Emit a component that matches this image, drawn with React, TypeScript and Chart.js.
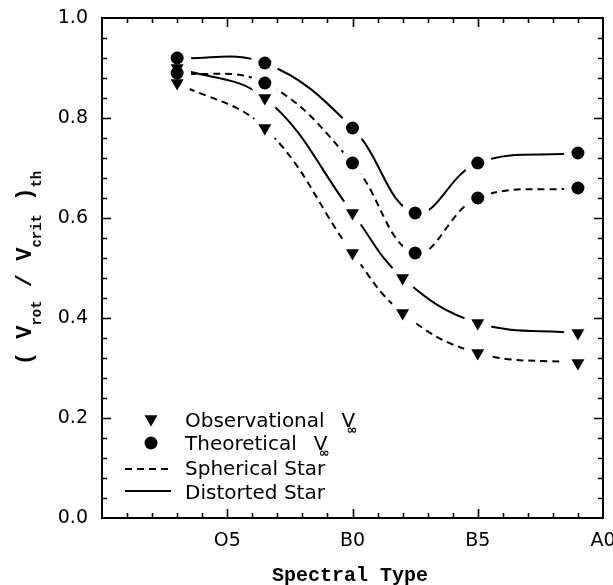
import React, { useEffect, useRef } from "react";
import { Chart, registerables } from "chart.js";

Chart.register(...registerables);

// ---- data (spectral subtype: O0 = 0, O5 = 5, B0 = 10, B5 = 15, A0 = 20) ----
const xTheoretical = [3, 6.5, 10, 12.5, 15, 19];
const xObservational = [3, 6.5, 10, 12, 15, 19];
const theoDistorted = [0.92, 0.91, 0.78, 0.61, 0.71, 0.73];
const theoSpherical = [0.89, 0.87, 0.71, 0.53, 0.64, 0.66];
const obsDistorted = [0.9, 0.84, 0.61, 0.48, 0.39, 0.37];
const obsSpherical = [0.87, 0.78, 0.53, 0.41, 0.33, 0.31];
const xTickValues = [5, 10, 15, 20];
const xTickLabels = ["O5", "B0", "B5", "A0"];
const legendLabels = ["Observational", "Theoretical", "Spherical Star", "Distorted Star"];

const pts = (xs: number[], ys: number[]) => xs.map((x, i) => ({ x, y: ys[i] }));

const HALO = 14;

const framePlugin = {
  id: "framePlugin",
  afterDatasetsDraw(chart: any) {
    // white gap around every marker, then the markers again, at the library's own point positions
    const ctx = chart.ctx as CanvasRenderingContext2D;
    const { left, right, top, bottom } = chart.chartArea;
    ctx.save();
    ctx.beginPath();
    ctx.rect(left, top, right - left, bottom - top);
    ctx.clip();
    const markerMetas = [chart.getDatasetMeta(0), chart.getDatasetMeta(1)];
    ctx.fillStyle = "#ffffff";
    markerMetas.forEach((meta: any) => {
      meta.data.forEach((el: any) => {
        ctx.beginPath();
        ctx.arc(el.x, el.y, HALO, 0, Math.PI * 2);
        ctx.fill();
      });
    });
    markerMetas.forEach((meta: any) => {
      meta.data.forEach((el: any) => el.draw(ctx, chart.chartArea));
    });
    ctx.restore();
  },
  afterDraw(chart: any) {
    const ctx = chart.ctx as CanvasRenderingContext2D;
    const { left, right, top, bottom } = chart.chartArea;
    const xs = chart.scales.x;
    const ys = chart.scales.y;
    ctx.save();
    ctx.strokeStyle = "#000";
    ctx.fillStyle = "#000";
    ctx.lineWidth = 2;
    ctx.strokeRect(left, top, right - left, bottom - top);
    ctx.lineWidth = 1.6;
    for (let v = 1; v < 20; v++) {
      const px = Math.round(xs.getPixelForValue(v)) + 0.5;
      const len = v % 5 === 0 ? 9 : 5;
      ctx.beginPath();
      ctx.moveTo(px, bottom);
      ctx.lineTo(px, bottom - len);
      ctx.moveTo(px, top);
      ctx.lineTo(px, top + len);
      ctx.stroke();
    }
    for (let i = 1; i < 25; i++) {
      const py = Math.round(ys.getPixelForValue(i * 0.04)) + 0.5;
      const len = i % 5 === 0 ? 9 : 5;
      ctx.beginPath();
      ctx.moveTo(left, py);
      ctx.lineTo(left + len, py);
      ctx.moveTo(right, py);
      ctx.lineTo(right - len, py);
      ctx.stroke();
    }

    // x title
    ctx.font = "bold 20px 'Liberation Mono'";
    ctx.textAlign = "center";
    ctx.textBaseline = "alphabetic";
    ctx.fillText("Spectral Type", 350, 581);

    // y title (rotated, with subscripts)
    const segs: [string, boolean][] = [
      ["( V", false],
      ["rot", true],
      [" / V", false],
      ["crit", true],
      [" )", false],
      ["th", true],
    ];
    const mainFont = "bold 22px 'Liberation Mono'";
    const subFont = "bold 14px 'Liberation Mono'";
    let total = 0;
    const widths = segs.map(([t, sub]) => {
      ctx.font = sub ? subFont : mainFont;
      const w = ctx.measureText(t).width;
      total += w;
      return w;
    });
    ctx.translate(0, (top + bottom) / 2);
    ctx.rotate(-Math.PI / 2);
    ctx.textAlign = "left";
    let u = -total / 2;
    segs.forEach(([t, sub], i) => {
      ctx.font = sub ? subFont : mainFont;
      ctx.fillText(t, u, sub ? 41 : 31);
      u += widths[i];
    });
    ctx.setTransform(1, 0, 0, 1, 0, 0);

    // legend
    const textX = 185;
    const baselines = [427, 450, 475, 499];
    const symX = 151;
    ctx.beginPath();
    const r = 7.5;
    const cy = 419;
    ctx.moveTo(symX, cy + r);
    ctx.lineTo(symX - r * Math.sin(Math.PI / 3), cy - r / 2);
    ctx.lineTo(symX + r * Math.sin(Math.PI / 3), cy - r / 2);
    ctx.closePath();
    ctx.fill();
    ctx.beginPath();
    ctx.arc(symX, 443, 6.5, 0, Math.PI * 2);
    ctx.fill();
    ctx.lineWidth = 2;
    ctx.setLineDash([7, 5]);
    ctx.beginPath();
    ctx.moveTo(125, 469);
    ctx.lineTo(171, 469);
    ctx.stroke();
    ctx.setLineDash([]);
    ctx.beginPath();
    ctx.moveTo(125, 491);
    ctx.lineTo(171, 491);
    ctx.stroke();

    ctx.textAlign = "left";
    legendLabels.forEach((lab, i) => {
      ctx.font = "20px 'DejaVu Sans'";
      ctx.fillText(lab, textX, baselines[i]);
      if (i < 2) {
        const w = ctx.measureText(lab).width;
        const vx = textX + w + 17;
        ctx.fillText("V", vx, baselines[i]);
        ctx.font = "bold 13px 'DejaVu Sans'";
        ctx.fillText("\u221E", vx + 5, baselines[i] + 7);
      }
    });
    ctx.restore();
  },
};

export default function App() {
  const ref = useRef<HTMLCanvasElement | null>(null);
  useEffect(() => {
    if (!ref.current) return;
    const lineBase = {
      showLine: true,
      pointRadius: 0,
      borderColor: "#000",
      borderWidth: 2,
      tension: 0.4,
      fill: false,
    };
    const chart = new Chart(ref.current, {
      type: "scatter",
      data: {
        datasets: [
          {
            label: "Observational",
            data: [...pts(xObservational, obsDistorted), ...pts(xObservational, obsSpherical)],
            pointStyle: "triangle",
            pointRotation: 180,
            pointRadius: 7.5,
            pointBackgroundColor: "#000",
            pointBorderColor: "#000",
            pointBorderWidth: 0,
          } as any,
          {
            label: "Theoretical",
            data: [...pts(xTheoretical, theoDistorted), ...pts(xTheoretical, theoSpherical)],
            pointStyle: "circle",
            pointRadius: 6.5,
            pointBackgroundColor: "#000",
            pointBorderColor: "#000",
            pointBorderWidth: 0,
          } as any,
          { ...lineBase, label: "theoDistorted", data: pts(xTheoretical, theoDistorted) } as any,
          { ...lineBase, label: "theoSpherical", data: pts(xTheoretical, theoSpherical), borderDash: [7, 5] } as any,
          { ...lineBase, label: "obsDistorted", data: pts(xObservational, obsDistorted) } as any,
          { ...lineBase, label: "obsSpherical", data: pts(xObservational, obsSpherical), borderDash: [7, 5] } as any,
        ],
      },
      options: {
        animation: false,
        responsive: false,
        devicePixelRatio: 1,
        events: [],
        layout: { autoPadding: false, padding: { left: 0, right: 10, top: 18, bottom: 0 } },
        plugins: { legend: { display: false }, tooltip: { enabled: false }, title: { display: false } },
        scales: {
          x: {
            type: "linear",
            min: 0,
            max: 20,
            afterFit: (s: any) => {
              s.height = 67;
              s.paddingLeft = 0;
              s.paddingRight = 0;
            },
            afterBuildTicks: (s: any) => {
              s.ticks = xTickValues.map((v) => ({ value: v }));
            },
            grid: { display: false, drawTicks: false },
            border: { display: false },
            ticks: {
              autoSkip: false,
              maxRotation: 0,
              padding: 12,
              color: "#000",
              font: { family: "'DejaVu Sans'", size: 19 },
              callback: (v: any) => {
                const i = xTickValues.indexOf(Number(v));
                return i >= 0 ? xTickLabels[i] : "";
              },
            },
          },
          y: {
            type: "linear",
            min: 0,
            max: 1,
            afterFit: (s: any) => {
              s.width = 102;
              s.paddingTop = 0;
              s.paddingBottom = 0;
            },
            grid: { display: false, drawTicks: false },
            border: { display: false },
            ticks: {
              stepSize: 0.2,
              padding: 14,
              color: "#000",
              font: { family: "'DejaVu Sans'", size: 19 },
              callback: (v: any) => Number(v).toFixed(1),
            },
          },
        },
      } as any,
      plugins: [framePlugin],
    });
    return () => chart.destroy();
  }, []);
  return (
    <div style={{ position: "absolute", left: 0, top: 0, width: 613, height: 585, background: "#fff" }}>
      <canvas ref={ref} width={613} height={585} />
    </div>
  );
}
